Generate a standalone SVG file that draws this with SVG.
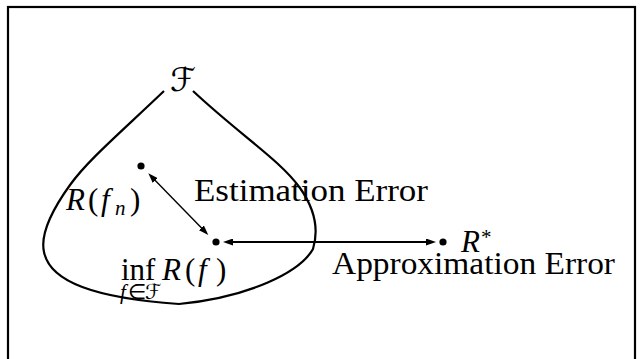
<svg xmlns="http://www.w3.org/2000/svg" width="642" height="359" viewBox="0 0 642 359">
<style>
.frame{fill:none;stroke:#000;stroke-width:2.2}
.set{fill:none;stroke:#000;stroke-width:2.2;stroke-linejoin:round}
.dot{fill:#000}
.t{font-family:"Liberation Serif","Times New Roman",serif;font-size:31px;fill:#000}
.i{font-style:italic}
.s{font-size:21px}
.thin{fill:none;stroke:#000;stroke-width:1.4}
.thick{fill:none;stroke:#000;stroke-width:2.2}
.cal{font-family:"DejaVu Sans","DejaVu Serif",sans-serif;fill:#000}
</style>
<defs>
<marker id="ah" viewBox="0 0 10 7" refX="7" refY="3.5" markerWidth="10" markerHeight="7" markerUnits="userSpaceOnUse" orient="auto-start-reverse">
<path d="M0,0 L10,3.5 L0,7 Z" fill="#000"/>
</marker>
</defs>
<rect class="frame" x="8" y="7" width="627" height="400"/>
<g id="set-F">
<path class="set" d="M164,91 C120,133 88,160 70,185 C52,210 40,234 44,252 C50,282 95,298 179,304 C250,297 300,272 313,249 C320,226 312,205 300,188 C280,160 240,135 193,91"/>
<text class="cal" x="170" y="91" font-size="33">ℱ</text>
</g>
<g id="node-Rfn">
<circle class="dot" cx="141" cy="166" r="3.6"/>
<text class="t"><tspan class="i" x="66" y="210">R</tspan><tspan x="88" y="210">(</tspan><tspan class="i" x="101" y="210">f</tspan><tspan class="i s" x="115" y="215">n</tspan><tspan x="130" y="210">)</tspan></text>
</g>
<g id="node-inf">
<circle class="dot" cx="216" cy="242" r="3.6"/>
<text class="t"><tspan x="121" y="280">inf</tspan><tspan class="i" x="162" y="280">R</tspan><tspan x="185" y="280">(</tspan><tspan class="i" x="198" y="280">f</tspan><tspan x="216" y="280">)</tspan></text>
<text class="t s"><tspan class="i" x="120" y="299">f</tspan><tspan x="128" y="299">∈</tspan></text>
<text class="cal" x="145" y="299" font-size="21">ℱ</text>
</g>
<g id="node-Rstar">
<circle class="dot" cx="443" cy="242" r="3.6"/>
<text class="t"><tspan class="i" x="461" y="252">R</tspan><tspan class="s" x="481" y="244">*</tspan></text>
</g>
<g id="labels">
<text class="t" x="194" y="201" textLength="234" lengthAdjust="spacingAndGlyphs">Estimation Error</text>
<text class="t" x="332" y="274" textLength="283" lengthAdjust="spacingAndGlyphs">Approximation Error</text>
</g>
<g id="connectors">
<line class="thin" x1="150.4" y1="175.5" x2="206.2" y2="232.8" marker-start="url(#ah)" marker-end="url(#ah)"/>
<line class="thick" x1="226" y1="242" x2="433" y2="242" marker-start="url(#ah)" marker-end="url(#ah)"/>
</g>
</svg>
